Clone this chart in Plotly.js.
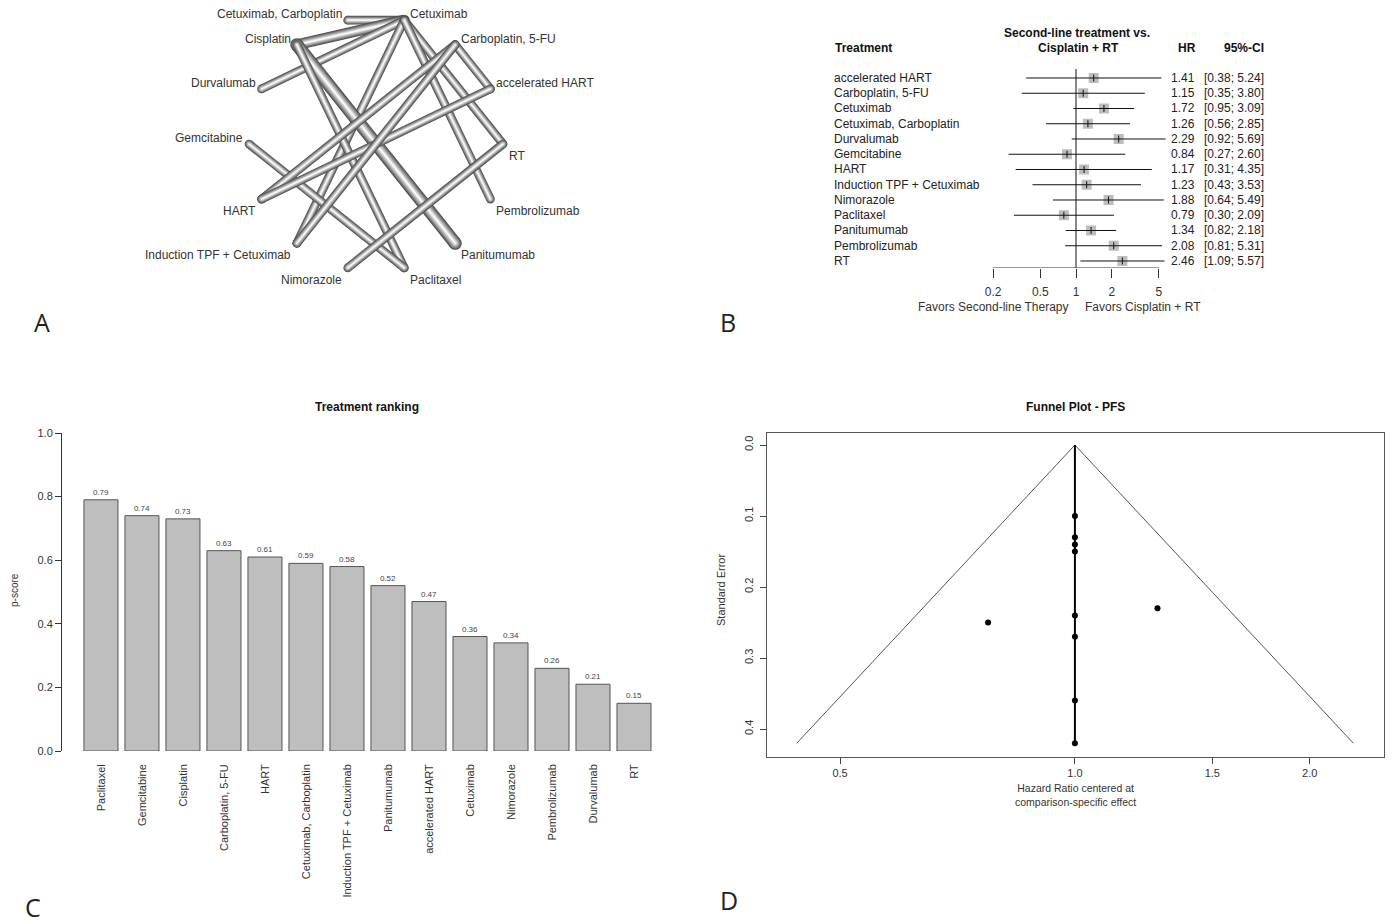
<!DOCTYPE html>
<html><head><meta charset="utf-8">
<script src="https://cdn.plot.ly/plotly-3.0.1.min.js"></script>
<style>html,body{margin:0;padding:0;background:#fff}#chart{width:1392px;height:924px}</style>
</head><body><div id="chart"></div>
<script>
// ---------------- Panel A: network graph ----------------
const networkNodes = ["Cetuximab","Carboplatin, 5-FU","accelerated HART","RT","Pembrolizumab","Panitumumab","Paclitaxel","Nimorazole","Induction TPF + Cetuximab","HART","Gemcitabine","Durvalumab","Cisplatin","Cetuximab, Carboplatin"];
const edgeFrom    = ["Cetuximab","Cetuximab","Cetuximab","Cetuximab","Cetuximab","Cetuximab","Cisplatin","Cisplatin","Gemcitabine","RT","Carboplatin, 5-FU","Carboplatin, 5-FU","accelerated HART","Induction TPF + Cetuximab"];
const edgeTo      = ["Cetuximab, Carboplatin","Cisplatin","Durvalumab","Induction TPF + Cetuximab","RT","Pembrolizumab","Panitumumab","Paclitaxel","Paclitaxel","Nimorazole","accelerated HART","HART","HART","Carboplatin, 5-FU"];
const edgeStudies = [1,2,1,1,1,1,3,1,1,1,1,1,1,1];

// ---------------- Panel B: forest plot ----------------
const forestTreatments = ["accelerated HART","Carboplatin, 5-FU","Cetuximab","Cetuximab, Carboplatin","Durvalumab","Gemcitabine","HART","Induction TPF + Cetuximab","Nimorazole","Paclitaxel","Panitumumab","Pembrolizumab","RT"];
const forestHR    = [1.41,1.15,1.72,1.26,2.29,0.84,1.17,1.23,1.88,0.79,1.34,2.08,2.46];
const forestLower = [0.38,0.35,0.95,0.56,0.92,0.27,0.31,0.43,0.64,0.30,0.82,0.81,1.09];
const forestUpper = [5.24,3.80,3.09,2.85,5.69,2.60,4.35,3.53,5.49,2.09,2.18,5.31,5.57];
const forestTicks = [0.2,0.5,1,2,5];
const forestTickText = ["0.2","0.5","1","2","5"];

// ---------------- Panel C: ranking ----------------
const rankTreatments = ["Paclitaxel","Gemcitabine","Cisplatin","Carboplatin, 5-FU","HART","Cetuximab, Carboplatin","Induction TPF + Cetuximab","Panitumumab","accelerated HART","Cetuximab","Nimorazole","Pembrolizumab","Durvalumab","RT"];
const rankPscore = [0.79,0.74,0.73,0.63,0.61,0.59,0.58,0.52,0.47,0.36,0.34,0.26,0.21,0.15];
const rankTicks = [0,0.2,0.4,0.6,0.8,1.0];
const rankTickText = ["0.0","0.2","0.4","0.6","0.8","1.0"];

// ---------------- Panel D: funnel ----------------
const funnelHR = [1,1,1,1,1,1,1,1,0.774,1.276];
const funnelSE = [0.10,0.13,0.14,0.15,0.24,0.27,0.36,0.42,0.25,0.23];
const funnelEdgeHR = [0.44,1,2.275];
const funnelEdgeSE = [0.42,0,0.42];
const funnelCenterHR = [1,1];
const funnelCenterSE = [0,0.42];
const funnelXTicks = [0.5,1,1.5,2];
const funnelXTickText = ["0.5","1.0","1.5","2.0"];
const funnelYTicks = [0,0.1,0.2,0.3,0.4];
const funnelYTickText = ["0.0","0.1","0.2","0.3","0.4"];

// ---------------- helpers ----------------
const W = 1392, H = 924;
const PX = x => x / W;
const PY = y => 1 - y / H;
const FONT = "Liberation Sans, Arial, sans-serif";

const traces = [];
const annotations = [];
const shapes = [];

// ---- A: node positions on a circle ----
const R = 127;
const nN = networkNodes.length;
const pos = {};
networkNodes.forEach((n, k) => {
  const th = (180 / nN + k * 360 / nN) * Math.PI / 180;
  pos[n] = {x: R * Math.sin(th), y: R * Math.cos(th), k: k};
});
const layerFrac = [1, 0.84, 0.68, 0.52, 0.36, 0.2, 0.08];
const layerCol = ["#4e4e4e", "#6e6e6e", "#8e8e8e", "#adadad", "#cdcdcd", "#ebebeb", "#ffffff"];
edgeFrom.forEach((f, i) => {
  const a = pos[f], b = pos[edgeTo[i]];
  const w = 6.5 + 2.2 * edgeStudies[i];
  layerFrac.forEach((fr, li) => {
    traces.push({
      type: "scatter", mode: "lines+markers", xaxis: "x", yaxis: "y",
      x: [a.x, b.x], y: [a.y, b.y],
      line: {color: layerCol[li], width: w * fr},
      marker: {color: layerCol[li], size: w * fr, line: {width: 0}},
      hoverinfo: "skip"
    });
  });
});
networkNodes.forEach(n => {
  const p = pos[n];
  const right = p.k <= 6;
  const upper = p.k < 3 || p.k >= 10;
  annotations.push({
    xref: "x", yref: "y", x: p.x, y: p.y, text: n, showarrow: false,
    xanchor: right ? "left" : "right", yanchor: "middle",
    xshift: right ? 4 : -4, yshift: upper ? 6 : -12,
    font: {family: FONT, size: 12, color: "#333"}
  });
});

// ---- B: forest ----
const rows = forestTreatments.map((_, i) => i);
traces.push({
  type: "scatter", mode: "markers", xaxis: "x2", yaxis: "y2",
  x: forestHR, y: rows,
  marker: {symbol: "square", size: 10, color: "#bdbdbd", line: {width: 0}},
  hoverinfo: "skip"
});
const ciX = [], ciY = [];
forestLower.forEach((lo, i) => { ciX.push(lo, forestUpper[i], null); ciY.push(i, i, null); });
traces.push({
  type: "scatter", mode: "lines", xaxis: "x2", yaxis: "y2",
  x: ciX, y: ciY, line: {color: "#111", width: 1}, hoverinfo: "skip"
});
traces.push({
  type: "scatter", mode: "markers", xaxis: "x2", yaxis: "y2",
  x: forestHR, y: rows,
  marker: {symbol: "line-ns", size: 5, line: {color: "#111", width: 1}},
  hoverinfo: "skip"
});
traces.push({
  type: "scatter", mode: "lines", xaxis: "x2", yaxis: "y2",
  x: [1, 1], y: [-0.59, 12.46], line: {color: "#111", width: 1}, hoverinfo: "skip"
});
shapes.push({type: "line", xref: "x2", yref: "y2", x0: forestTicks[0], x1: forestTicks[forestTicks.length - 1], y0: 12.46, y1: 12.46, line: {color: "#333", width: 1}});
const fB = {family: FONT, size: 12, color: "#222"};
const fBb = {family: FONT, size: 12, color: "#111", weight: "bold"};
forestTreatments.forEach((t, i) => {
  annotations.push({xref: "paper", yref: "y2", x: PX(832), y: i, text: t, showarrow: false, xanchor: "left", yanchor: "middle", font: fB});
  annotations.push({xref: "paper", yref: "y2", x: PX(1197), y: i, text: forestHR[i].toFixed(2), showarrow: false, xanchor: "right", yanchor: "middle", font: fB});
  annotations.push({xref: "paper", yref: "y2", x: PX(1266), y: i, text: "[" + forestLower[i].toFixed(2) + "; " + forestUpper[i].toFixed(2) + "]", showarrow: false, xanchor: "right", yanchor: "middle", font: fB});
});
annotations.push({xref: "paper", yref: "paper", x: PX(833), y: PY(48), text: "<b>Treatment</b>", showarrow: false, xanchor: "left", yanchor: "middle", font: fBb});
annotations.push({xref: "paper", yref: "paper", x: PX(1077), y: PY(33), text: "<b>Second-line treatment vs.</b>", showarrow: false, xanchor: "center", yanchor: "middle", font: fBb});
annotations.push({xref: "paper", yref: "paper", x: PX(1078), y: PY(48), text: "<b>Cisplatin + RT</b>", showarrow: false, xanchor: "center", yanchor: "middle", font: fBb});
annotations.push({xref: "paper", yref: "paper", x: PX(1187), y: PY(48), text: "<b>HR</b>", showarrow: false, xanchor: "center", yanchor: "middle", font: fBb});
annotations.push({xref: "paper", yref: "paper", x: PX(1266), y: PY(48), text: "<b>95%-CI</b>", showarrow: false, xanchor: "right", yanchor: "middle", font: fBb});
annotations.push({xref: "paper", yref: "paper", x: PX(1071), y: PY(307), text: "Favors Second-line Therapy", showarrow: false, xanchor: "right", yanchor: "middle", font: {family: FONT, size: 12, color: "#333"}});
annotations.push({xref: "paper", yref: "paper", x: PX(1083), y: PY(307), text: "Favors Cisplatin + RT", showarrow: false, xanchor: "left", yanchor: "middle", font: {family: FONT, size: 12, color: "#333"}});

// ---- C: ranking bars ----
traces.push({
  type: "bar", xaxis: "x3", yaxis: "y3",
  x: rankTreatments, y: rankPscore, width: 0.83,
  marker: {color: "#bebebe", line: {color: "#555", width: 1}},
  text: rankPscore.map(v => v.toFixed(2)), textposition: "outside",
  textfont: {family: FONT, size: 8, color: "#444"}, cliponaxis: false,
  hoverinfo: "skip"
});
annotations.push({xref: "paper", yref: "paper", x: PX(367), y: PY(407), text: "<b>Treatment ranking</b>", showarrow: false, xanchor: "center", yanchor: "middle", font: fBb});
annotations.push({xref: "paper", yref: "paper", x: PX(14), y: PY(590), text: "p-score", textangle: -90, showarrow: false, xanchor: "center", yanchor: "middle", font: {family: FONT, size: 10, color: "#333"}});

// ---- D: funnel ----
traces.push({
  type: "scatter", mode: "lines", xaxis: "x4", yaxis: "y4",
  x: funnelEdgeHR, y: funnelEdgeSE, line: {color: "#555", width: 1}, hoverinfo: "skip"
});
traces.push({
  type: "scatter", mode: "lines", xaxis: "x4", yaxis: "y4",
  x: funnelCenterHR, y: funnelCenterSE, line: {color: "#000", width: 2}, hoverinfo: "skip"
});
traces.push({
  type: "scatter", mode: "markers", xaxis: "x4", yaxis: "y4",
  x: funnelHR, y: funnelSE, marker: {color: "#000", size: 6}, hoverinfo: "skip"
});
annotations.push({xref: "paper", yref: "paper", x: PX(1075), y: PY(407), text: "<b>Funnel Plot - PFS</b>", showarrow: false, xanchor: "center", yanchor: "middle", font: fBb});
annotations.push({xref: "paper", yref: "paper", x: PX(1075), y: PY(795), text: "Hazard Ratio centered at<br>comparison-specific effect", showarrow: false, xanchor: "center", yanchor: "middle", font: {family: FONT, size: 10.5, color: "#333"}});
annotations.push({xref: "paper", yref: "paper", x: PX(721), y: PY(590), text: "Standard Error", textangle: -90, showarrow: false, xanchor: "center", yanchor: "middle", font: {family: FONT, size: 11, color: "#333"}});

// ---- panel letters ----
[["A", 42, 322], ["B", 728, 322], ["C", 33, 907], ["D", 729, 900]].forEach(([t, x, y]) => {
  annotations.push({xref: "paper", yref: "paper", x: PX(x), y: PY(y), text: t, showarrow: false, xanchor: "center", yanchor: "middle", font: {family: "Open Sans, Liberation Sans, sans-serif", size: 25, color: "#222"}});
});

const axOff = {visible: false, showgrid: false, zeroline: false, fixedrange: true};
const layout = {
  width: W, height: H, margin: {l: 0, r: 0, t: 0, b: 0},
  paper_bgcolor: "#fff", plot_bgcolor: "rgba(0,0,0,0)",
  showlegend: false, font: {family: FONT, color: "#333"},
  xaxis: Object.assign({domain: [PX(100), PX(660)], range: [-276, 284], anchor: "y"}, axOff),
  yaxis: Object.assign({domain: [PY(300), 1], range: [-156, 144], anchor: "x"}, axOff),
  xaxis2: {type: "log", domain: [PX(969.2), PX(1182.8)], range: [-0.9, 0.9], anchor: "y2",
    tickmode: "array", tickvals: forestTicks, ticktext: forestTickText, ticks: "outside", ticklen: 9,
    tickcolor: "#333", tickwidth: 1, showline: false, showgrid: false, zeroline: false,
    tickfont: {family: FONT, size: 12, color: "#333"}, ticklabelstandoff: 4},
  yaxis2: Object.assign({domain: [PY(268), PY(60)], range: [12.46, -1.18], anchor: "x2"}, axOff),
  xaxis3: {domain: [PX(62), PX(654.5)], range: [-0.95, 13.5], anchor: "y3", type: "category",
    tickmode: "array", tickvals: rankTreatments, ticktext: rankTreatments,
    tickangle: -90, ticks: "", showline: false, showgrid: false, zeroline: false,
    tickfont: {family: FONT, size: 11, color: "#333"}, ticklabelstandoff: 10},
  yaxis3: {domain: [PY(751), PY(433)], range: [0, 1], anchor: "x3",
    tickmode: "array", tickvals: rankTicks, ticktext: rankTickText, ticks: "outside", ticklen: 6,
    tickcolor: "#333", showline: true, linecolor: "#333", linewidth: 1, showgrid: false, zeroline: false,
    tickfont: {family: FONT, size: 11, color: "#333"}},
  xaxis4: {type: "log", domain: [PX(767), PX(1384)], range: [Math.log10(0.403), Math.log10(2.49)], anchor: "y4",
    tickmode: "array", tickvals: funnelXTicks, ticktext: funnelXTickText, ticks: "outside", ticklen: 6,
    tickcolor: "#444", showline: true, mirror: true, linecolor: "#555", linewidth: 1,
    showgrid: false, zeroline: false, tickfont: {family: FONT, size: 11, color: "#333"}},
  yaxis4: {domain: [PY(757), PY(433)], range: [0.4394, -0.0169], anchor: "x4",
    tickmode: "array", tickvals: funnelYTicks, ticktext: funnelYTickText, tickangle: -90,
    ticks: "outside", ticklen: 6, tickcolor: "#444", showline: true, mirror: true, linecolor: "#555", linewidth: 1,
    showgrid: false, zeroline: false, tickfont: {family: FONT, size: 11, color: "#333"}, ticklabelstandoff: 3},
  annotations: annotations, shapes: shapes
};
Plotly.newPlot("chart", traces, layout, {staticPlot: true, displayModeBar: false});
</script></body></html>
